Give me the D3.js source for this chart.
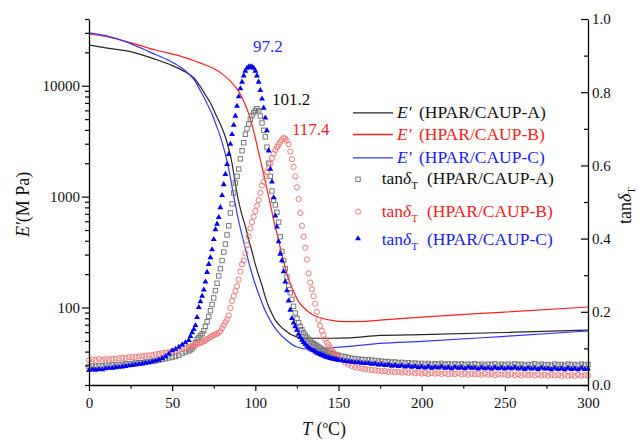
<!DOCTYPE html>
<html>
<head>
<meta charset="utf-8">
<script src="https://cdn.jsdelivr.net/npm/d3@7"></script>
<style>
  html, body { margin: 0; padding: 0; background: #fff; }
  svg, svg text { font-family: "Liberation Serif", "Tinos", "DejaVu Serif", "Noto Serif", serif; }
</style>
</head>
<body>
<svg id="chart" width="639" height="440"></svg>
<script>
// ---- storage modulus E' (MPa) vs temperature (°C) ----
const tempEA = [0,10,25,40,50,58,63,67,70,73,76,79,82,84,86,88,90,92,94,96,98,100,102,104,106,108,110,112,115,118,122,128,135,145,157,175,200,250,300];
const modA   = [23300,22000,20300,17300,15200,13300,11800,9800,8300,7000,5600,4500,3450,2700,2000,1300,900,680,540,410,320,245,195,158,124,102,88,77,68,62,56.5,53.3,52.8,52.8,53.3,56,57,59.5,62.5];

const tempEB = [0,10,25,40,55,67,75,80,85,90,93,96,99,102,105,108,111,114,117,120,123,126,130,135,140,145,155,165,175,200,250,300];
const modB   = [29300,27800,24500,21000,18500,16000,14300,12800,11000,8900,7300,5600,3900,2500,1600,1000,620,400,260,180,140,113,97,85,80,77,74.5,75,77,82,91,101];

const tempEC = [0,10,25,37,47,55,60,64,67,70,73.6,76.5,79.6,83.6,86.6,89.6,93.6,97.6,102.6,106.6,110,113,118.6,124.6,132.6,142.6,154.6,175,200,250,300];
const modC   = [30000,28300,24000,20000,17200,14700,12800,10900,9000,7400,5700,4400,3250,1900,1100,640,360,210,125,89,72,62,51,44.3,42,42.9,44.3,47.5,49.5,55,61.4];

// ---- loss factor tanδT, sampled every 2 °C, every 1 °C through the transition ----
const tempLow  = d3.range(0, 60, 2);     // 0 … 58
const tempMid  = d3.range(60, 151, 1);   // 60 … 150
const tempHigh = d3.range(152, 301, 2);  // 152 … 300

const tanA_low  = [.050,.052,.051,.053,.052,.054,.053,.055,.055,.056,.056,.058,.058,.059,.060,.061,.061,.063,.064,.065,.066,.068,.070,.072,.074,.076,.078,.081,.086,.090];
const tanA_mid  = [.093,.096,.099,.105,.116,.125,.130,.135,.140,.148,
                   .160,.173,.187,.203,.220,.238,.258,.278,.298,.318,
                   .340,.363,.385,.410,.435,.470,.495,.525,.552,.570,
                   .590,.618,.640,.662,.685,.700,.713,.726,.736,.744,
                   .750,.755,.749,.735,.716,.696,.678,.650,.606,.570,
                   .530,.505,.492,.472,.445,.405,.365,.340,.318,.295,
                   .272,.252,.234,.215,.197,.182,.170,.160,.151,.143,
                   .136,.130,.125,.120,.116,.113,.110,.107,.104,.101,
                   .098,.096,.094,.092,.090,.088,.086,.084,.083,.082,
                   .081];
const tanA_high = [.079,.077,.075,.073,.072,.071,.070,.069,.069,.068,
                   .067,.066,.065,.064,.064,.062,.063,.061,.062,.060,
                   .061,.059,.060,.058,.059,.057,.059,.056,.058,.057,
                   .059,.056,.058,.055,.058,.056,.058,.055,.057,.056,
                   .058,.055,.057,.054,.057,.055,.058,.054,.057,.055,
                   .057,.054,.058,.055,.057,.054,.056,.055,.058,.054,
                   .057,.055,.056,.054,.057,.055,.056,.054,.057,.055,
                   .056,.054,.057,.055,.056];

const tanB_low  = [.068,.070,.068,.071,.069,.071,.070,.072,.072,.073,.074,.074,.076,.076,.077,.078,.079,.080,.081,.082,.084,.085,.087,.088,.090,.092,.094,.096,.099,.101];
const tanB_mid  = [.104,.105,.107,.109,.110,.112,.113,.115,.117,.119,
                   .122,.125,.128,.131,.134,.136,.138,.140,.143,.147,
                   .155,.163,.172,.179,.190,.210,.230,.243,.257,.270,
                   .288,.310,.330,.340,.360,.382,.405,.428,.445,.460,
                   .475,.490,.505,.525,.545,.555,.570,.582,.592,.605,
                   .620,.632,.642,.650,.657,.664,.670,.675,.673,.668,
                   .658,.638,.617,.596,.570,.540,.508,.470,.435,.405,
                   .375,.343,.305,.280,.262,.243,.222,.200,.178,.162,
                   .148,.137,.125,.116,.109,.102,.095,.089,.084,.080,
                   .076];
const tanB_high = [.069,.061,.056,.052,.049,.047,.045,.044,.042,.041,
                   .040,.039,.038,.038,.036,.037,.035,.036,.034,.035,
                   .033,.035,.032,.034,.031,.033,.030,.033,.031,.032,
                   .030,.032,.029,.031,.030,.032,.029,.031,.028,.031,
                   .029,.030,.028,.031,.028,.030,.027,.030,.028,.029,
                   .027,.030,.027,.029,.026,.029,.027,.028,.026,.029,
                   .026,.028,.025,.028,.026,.027,.025,.028,.025,.027,
                   .025,.028,.025,.027,.026];

const tanC_low  = [.040,.042,.041,.043,.042,.045,.046,.046,.048,.049,.050,.051,.053,.054,.055,.057,.058,.060,.061,.064,.066,.069,.073,.078,.085,.094,.098,.104,.110,.116];
const tanC_mid  = [.122,.133,.143,.152,.163,.185,.212,.228,.243,.260,
                   .282,.308,.330,.348,.370,.398,.425,.440,.458,.485,
                   .518,.548,.576,.603,.630,.658,.685,.710,.735,.762,
                   .788,.810,.828,.845,.858,.866,.869,.870,.869,.866,
                   .858,.845,.828,.805,.782,.757,.730,.695,.640,.590,
                   .555,.512,.462,.432,.392,.358,.340,.310,.282,.258,
                   .230,.205,.182,.170,.160,.150,.139,.130,.123,.117,
                   .112,.107,.103,.099,.096,.094,.091,.088,.086,.084,
                   .082,.080,.078,.076,.075,.073,.072,.071,.070,.069,
                   .068];
const tanC_high = [.067,.065,.064,.063,.062,.061,.060,.059,.059,.057,
                   .058,.055,.056,.054,.055,.052,.054,.051,.053,.050,
                   .052,.049,.051,.048,.050,.047,.050,.046,.049,.047,
                   .050,.046,.048,.045,.049,.046,.048,.045,.049,.046,
                   .047,.044,.048,.045,.047,.044,.048,.045,.047,.044,
                   .047,.045,.048,.044,.046,.043,.047,.044,.046,.043,
                   .047,.044,.045,.042,.046,.043,.045,.042,.046,.043,
                   .045,.042,.046,.043,.044];

// peak temperatures of tanδT
const peakLabels = ["97.2", "101.2", "117.4"];

// axis ticks
const xMajor = [0, 50, 100, 150, 200, 250, 300];
const xMinor = [25, 75, 125, 175, 225, 275];
const eMajor = [100, 1000, 10000];
const eMinor = [20,30,40,50,60,70,80,90,200,300,400,500,600,700,800,900,2000,3000,4000,5000,6000,7000,8000,9000,20000,30000,40000];
const tMajor = [0, 0.2, 0.4, 0.6, 0.8, 1.0];
const tMinor = [0.1, 0.3, 0.5, 0.7, 0.9];

const sampleNames = ["HPAR/CAUP-A", "HPAR/CAUP-B", "HPAR/CAUP-C"];

// ---------------------------------------------------------------
const FONT = '"Liberation Serif", "Tinos", "DejaVu Serif", "Noto Serif", serif';
const svg = d3.select("#chart").attr("font-family", FONT);
svg.append("rect").attr("width", 639).attr("height", 440).attr("fill", "#fff");

const x  = d3.scaleLinear().domain([0, 300]).range([89, 588]);
const yE = d3.scaleLog().domain([20, 40000]).range([385, 19]);
const yT = d3.scaleLinear().domain([0, 1]).range([385, 19]);

const tempGrid = tempLow.concat(tempMid, tempHigh);
const zip = (ts, vs) => ts.map((t, i) => ({ t, v: vs[i] }));

const modSeries = [
  { data: zip(tempEA, modA), color: "#262626" },
  { data: zip(tempEB, modB), color: "#ff2020" },
  { data: zip(tempEC, modC), color: "#3535ff" }
];
const tanSeries = [
  zip(tempGrid, tanA_low.concat(tanA_mid, tanA_high)),
  zip(tempGrid, tanB_low.concat(tanB_mid, tanB_high)),
  zip(tempGrid, tanC_low.concat(tanC_mid, tanC_high))
];

// ---- E' curves ----
const lineE = d3.line().x(d => x(d.t)).y(d => yE(d.v)).curve(d3.curveMonotoneX);
svg.append("g").selectAll("path").data(modSeries).join("path")
  .attr("d", d => lineE(d.data))
  .attr("fill", "none")
  .attr("stroke", d => d.color)
  .attr("stroke-width", 1.2);

// ---- tanδ markers ----
const sq = 4.4;
svg.append("g").selectAll("rect").data(tanSeries[0]).join("rect")
  .attr("x", d => x(d.t) - sq / 2).attr("y", d => yT(d.v) - sq / 2)
  .attr("width", sq).attr("height", sq)
  .attr("fill", "none").attr("stroke", "#7a7a7a").attr("stroke-width", 1);

svg.append("g").selectAll("circle").data(tanSeries[1]).join("circle")
  .attr("cx", d => x(d.t)).attr("cy", d => yT(d.v)).attr("r", 2.6)
  .attr("fill", "none").attr("stroke", "#f07a7a").attr("stroke-width", 1);

const tri = d3.symbol(d3.symbolTriangle, 15);
svg.append("g").selectAll("path").data(tanSeries[2]).join("path")
  .attr("d", tri)
  .attr("transform", d => `translate(${x(d.t)},${yT(d.v)})`)
  .attr("fill", "#0000f5");

// ---- axes ----
const axisStyle = g => {
  g.attr("font-family", FONT);
  g.selectAll("path.domain").attr("stroke", "#000").attr("stroke-width", 1.3);
  g.selectAll(".tick line").attr("stroke", "#000").attr("stroke-width", 1.2);
  g.selectAll(".tick text").attr("font-size", 15).attr("fill", "#111").attr("font-family", FONT);
};

svg.append("g").attr("transform", "translate(0,385)")
  .call(d3.axisBottom(x).tickValues(xMajor).tickSize(6).tickSizeOuter(0).tickPadding(6))
  .call(axisStyle);
svg.append("g").attr("transform", "translate(0,385)")
  .call(d3.axisBottom(x).tickValues(xMinor).tickSize(3.5).tickFormat(""))
  .call(g => g.select(".domain").remove()).call(axisStyle);

svg.append("g").attr("transform", "translate(89,0)")
  .call(d3.axisLeft(yE).tickValues(eMajor).tickFormat(d3.format("d")).tickSize(7).tickSizeOuter(0).tickPadding(2))
  .call(axisStyle);
svg.append("g").attr("transform", "translate(89,0)")
  .call(d3.axisLeft(yE).tickValues(eMinor).tickFormat("").tickSize(4))
  .call(g => g.select(".domain").remove()).call(axisStyle);

svg.append("g").attr("transform", "translate(588,0)")
  .call(d3.axisRight(yT).tickValues(tMajor).tickFormat(d3.format(".1f")).tickSize(-7).tickSizeOuter(0).tickPadding(4))
  .call(axisStyle);
svg.append("g").attr("transform", "translate(588,0)")
  .call(d3.axisRight(yT).tickValues(tMinor).tickFormat("").tickSize(-4))
  .call(g => g.select(".domain").remove()).call(axisStyle);

// ---- axis titles ----
const xTitle = svg.append("text").attr("x", 302).attr("y", 435).attr("font-size", 18).attr("fill", "#111");
xTitle.append("tspan").attr("font-style", "italic").text("T");
xTitle.append("tspan").text(" (");
xTitle.append("tspan").attr("font-size", 11).attr("dy", -7).text("o");
xTitle.append("tspan").attr("dy", 7).text("C)");

const yTitle = svg.append("text").attr("transform", "translate(29,237) rotate(-90)")
  .attr("font-size", 18).attr("fill", "#111");
yTitle.append("tspan").attr("font-style", "italic").text("E'");
yTitle.append("tspan").text("(M Pa)");

const y2Title = svg.append("text").attr("transform", "translate(631,224) rotate(-90)")
  .attr("font-size", 18).attr("fill", "#111");
y2Title.append("tspan").text("tan");
y2Title.append("tspan").attr("font-style", "italic").text("δ");
y2Title.append("tspan").attr("font-size", 11).attr("dy", 4).text("T");

// ---- peak labels ----
const peakPos = [[253, 52, "#2a2aff"], [272, 105, "#111"], [292, 135, "#ff2020"]];
peakLabels.forEach((txt, i) => {
  svg.append("text").attr("x", peakPos[i][0]).attr("y", peakPos[i][1])
    .attr("font-size", 17).attr("fill", peakPos[i][2]).text(txt);
});

// ---- legend ----
const legColors = ["#111", "#ff1a1a", "#1a1aff"];
const lineRows = [118.3, 140, 163.3];
lineRows.forEach((by, i) => {
  svg.append("line").attr("x1", 353).attr("x2", 393).attr("y1", by - 5.5).attr("y2", by - 5.5)
    .attr("stroke", modSeries[i].color).attr("stroke-width", 1.3);
  const t = svg.append("text").attr("x", 397).attr("y", by).attr("font-size", 17.5).attr("fill", legColors[i]);
  t.append("tspan").attr("font-style", "italic").text("E'");
  t.append("tspan").attr("x", 419).text(`(${sampleNames[i]})`);
});

const markRows = [183.5, 217, 245];
const markY = [179.3, 211.7, 238.6];
svg.append("rect").attr("x", 358 - sq / 2).attr("y", markY[0] - sq / 2).attr("width", sq).attr("height", sq)
  .attr("fill", "none").attr("stroke", "#7a7a7a");
svg.append("circle").attr("cx", 358).attr("cy", markY[1]).attr("r", 2.6)
  .attr("fill", "none").attr("stroke", "#f07a7a");
svg.append("path").attr("d", tri).attr("transform", `translate(358,${markY[2]})`).attr("fill", "#0000f5");

markRows.forEach((by, i) => {
  const t = svg.append("text").attr("x", 381.7).attr("y", by).attr("font-size", 17.5).attr("fill", legColors[i]);
  t.append("tspan").text("tan");
  t.append("tspan").attr("font-style", "italic").text("δ");
  t.append("tspan").attr("font-size", 11).attr("dy", 5).text("T");
  t.append("tspan").attr("x", 427).attr("dy", -5).text(`(${sampleNames[i]})`);
});
</script>
</body>
</html>
